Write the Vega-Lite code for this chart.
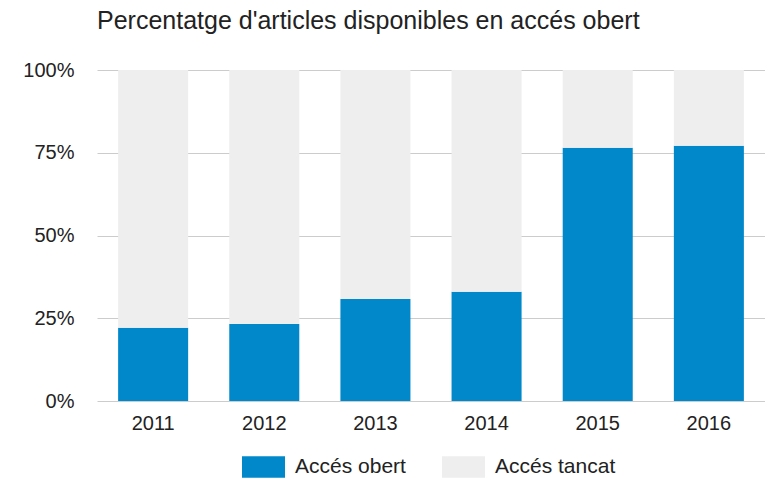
{
  "$schema": "https://vega.github.io/schema/vega-lite/v6.json",
  "width": 668,
  "height": 331,
  "autosize": "none",
  "padding": {"left": 97, "top": 70, "right": 0, "bottom": 77},
  "background": "white",
  "title": {
    "text": "Percentatge d'articles disponibles en accés obert",
    "anchor": "start",
    "frame": "group",
    "font": "Liberation Sans",
    "fontSize": 25,
    "fontWeight": "normal",
    "color": "#222222",
    "baseline": "alphabetic",
    "offset": 6
  },
  "data": {
    "values": [
      {"year": "2011", "type": "Accés obert", "value": 22.1},
      {"year": "2011", "type": "Accés tancat", "value": 77.9},
      {"year": "2012", "type": "Accés obert", "value": 23.3},
      {"year": "2012", "type": "Accés tancat", "value": 76.7},
      {"year": "2013", "type": "Accés obert", "value": 30.8},
      {"year": "2013", "type": "Accés tancat", "value": 69.2},
      {"year": "2014", "type": "Accés obert", "value": 33.0},
      {"year": "2014", "type": "Accés tancat", "value": 67.0},
      {"year": "2015", "type": "Accés obert", "value": 76.5},
      {"year": "2015", "type": "Accés tancat", "value": 23.5},
      {"year": "2016", "type": "Accés obert", "value": 77.1},
      {"year": "2016", "type": "Accés tancat", "value": 22.9}
    ]
  },
  "mark": {"type": "bar"},
  "encoding": {
    "x": {
      "field": "year",
      "type": "nominal",
      "scale": {"paddingInner": 0.37, "paddingOuter": 0.19},
      "axis": {
        "title": null,
        "labelAngle": 0,
        "labelFont": "Liberation Sans",
        "labelFontSize": 20,
        "labelColor": "#222222",
        "labelPadding": 12,
        "ticks": false,
        "domain": false,
        "grid": false
      }
    },
    "y": {
      "field": "value",
      "type": "quantitative",
      "stack": "zero",
      "scale": {"domain": [0, 100], "nice": false},
      "axis": {
        "title": null,
        "values": [0, 25, 50, 75, 100],
        "labelExpr": "datum.value + '%'",
        "labelFont": "Liberation Sans",
        "labelFontSize": 20,
        "labelColor": "#222222",
        "labelPadding": 23,
        "ticks": false,
        "domain": false,
        "gridColor": "#cccccc",
        "gridWidth": 1,
        "gridOpacity": 1
      }
    },
    "color": {
      "field": "type",
      "type": "nominal",
      "scale": {"domain": ["Accés obert", "Accés tancat"], "range": ["#0088CA", "#EEEEEE"]},
      "legend": {
        "title": null,
        "orient": "none",
        "direction": "horizontal",
        "legendX": 145,
        "legendY": 375,
        "symbolType": "M-1,-0.5H1V0.5H-1Z",
        "symbolSize": 1849,
        "symbolStrokeWidth": 0,
        "symbolOpacity": 1,
        "labelFont": "Liberation Sans",
        "labelFontSize": 21,
        "labelColor": "#222222",
        "labelOffset": 10,
        "columnPadding": 36
      }
    },
    "order": {"field": "type", "sort": "ascending"}
  },
  "config": {"view": {"stroke": null}}
}
